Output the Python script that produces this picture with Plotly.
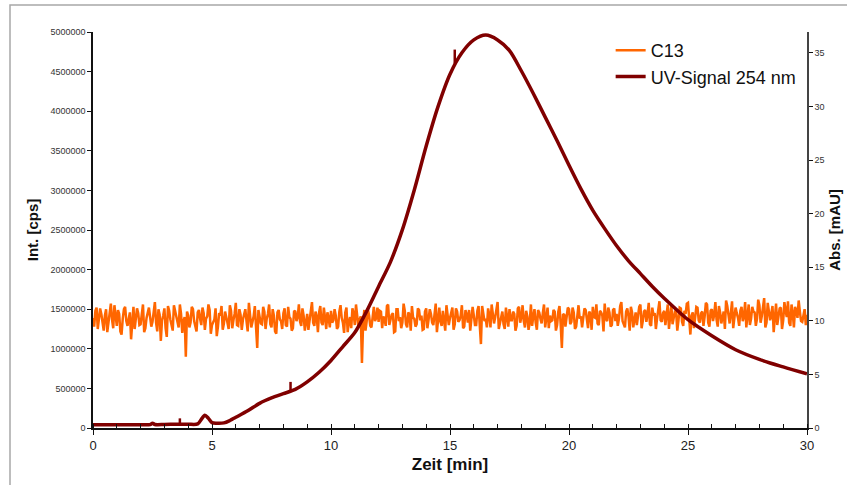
import numpy as np
import plotly.graph_objects as go

# C13 signal (thousands of cps): samples at 0.0, 0.1, ... 30.0 min
c13_a_kcps = [
    1390,1480,1250,1510,1330,1420,1210,1460,1370,1550,1290,1440,1180,1500,1350,1400,1120,1530,1380,1450,
    1310,1560,1260,1470,1400,1340,1590,1220,1430,1360,1510,1150,1480,1300,1550,1390,1270,1440,1350,900,
    1420,1330,1500,1260,1460,1380,1520,1240,1410,1490,1300,1370,1160,1450,1540,1320,1410,1250,1480,1360,
    1580,1290,1430,1370,1500,1220,1460,1340,1540,1010,1400,1310,1470,1380,1560,1270,1420,1190,1490,1350,
    1450,1300,1530,1380,1260,1470,1400,1340,1510,1230,1440,1370,1590,1290,1410,1460,1330,1520,1250,1390,
    1480,1360,1420,1280,1550,1330,1460,1210,1400,1510,1300,1440,1370,820,1490,1350,1420,1270,1530,1390,
    1340,1470,1410,1290,1560,1360,1450,1220,1500,1400,1330,1480,1270,1430,1540,1380,1310,1490,1420,1250,
    1510,1370,1440,1300,1570,1410,1340,1480,1230,1450,1390,1520,1310,1470,1360,1550,1280,1430,1490,1350,
    1420,1300,1540,1060,1460,1380,1510,1270,1440,1400,1590,1330,1470,1250,1420,1500,1360,1440,1290,1530,
    1400,1350,1480,1240,1560,1410,1330,1490,1380,1450,1270,1520,1420,1360,1470,1300,1540,1010,1430,1390,
    1500,1340,1460,1280,1550,1410,1370,1490,1260,1440,1530,1390,1320,1480,1420,1570,1350,1460,1300,1510,
    1440,1380,1590,1320,1470,1410,1530,1270,1460,1400,1560,1350,1490,1430,1310,1520,1450,1380,1600,1340,
    1480,1420,1250,1550,1400,1470,1360,1510,1290,1440,1580,1180,1460,1390,1520,1330,1470,1410,1560,1280,
    1500,1430,1370,1540,1320,1470,1610,1400,1450,1260,1520,1390,1480,1350,1590,1420,1300,1530,1460,1380,
    1550,1410,1640,1330,1490,1440,1210,1570,1400,1520,1360,1480,1600,1290,1450,1530,1390,1470,1340,1500,
    1430,
]
# C13 signal (thousands of cps): samples at 0.05, 0.15, ... 29.95 min
c13_b_kcps = [
    1280,1520,1350,1440,1230,1500,1310,1570,1260,1410,1490,1220,1380,1530,1290,1460,1340,1250,1510,1300,
    1470,1210,1390,1520,1280,1450,1330,1500,1100,1420,1260,1540,1370,1230,1480,1310,1560,1200,1400,1470,
    1270,1530,1350,1220,1490,1300,1450,1380,1560,1190,1340,1510,1280,1420,1240,1470,1330,1550,1260,1440,
    1300,1500,1240,1460,1350,1580,1270,1410,1200,1490,1320,1530,1250,1440,1310,1500,1220,1460,1370,1250,
    1510,1280,1400,1230,1480,1350,1560,1290,1420,1360,1240,1500,1330,1470,1210,1540,1300,1390,1460,1270,
    1330,1500,1250,1470,1390,1200,1520,1340,1260,1450,1560,1280,1410,1330,1230,1500,1290,1460,1350,1520,
    1480,1260,1370,1540,1300,1430,1210,1500,1350,1260,1570,1310,1460,1230,1390,1280,1510,1360,1240,1470,
    1260,1500,1330,1440,1210,1520,1290,1380,1550,1300,1460,1240,1510,1340,1420,1260,1490,1330,1230,1530,
    1300,1480,1210,1540,1350,1270,1430,1560,1320,1480,1250,1400,1310,1520,1280,1360,1470,1230,1510,1330,
    1550,1270,1410,1330,1290,1500,1240,1460,1320,1560,1410,1260,1350,1490,1230,1470,1310,1440,1280,1520,
    1310,1520,1250,1430,1380,1270,1510,1330,1470,1240,1400,1560,1300,1460,1220,1380,1520,1280,1490,1350,
    1290,1540,1350,1270,1510,1230,1460,1380,1300,1530,1260,1470,1340,1580,1290,1420,1250,1500,1360,1450,
    1300,1560,1390,1310,1470,1230,1520,1340,1480,1570,1300,1420,1260,1530,1360,1450,1290,1580,1330,1480,
    1350,1590,1280,1460,1410,1250,1540,1320,1600,1370,1450,1290,1530,1400,1270,1560,1380,1470,1290,1620,
    1330,1500,1270,1580,1360,1540,1410,1300,1510,1250,1590,1400,1330,1560,1270,1480,1610,1350,1440,1300,
]
c13_kcps = []
for i, a in enumerate(c13_a_kcps):
    c13_kcps.append(a)
    if i < len(c13_b_kcps):
        c13_kcps.append(c13_b_kcps[i])
c13_time = np.linspace(0, 30, len(c13_kcps))
c13_cps = [v * 1000 for v in c13_kcps]

# UV signal 254 nm (mAU), smooth trace
uv_time = [0, 1.0, 2.0, 2.4, 2.5, 2.6, 3.0, 3.5, 4.0, 4.4, 4.55, 4.7, 4.85, 5.0, 5.2, 5.5, 5.75,
           6.0, 6.5, 7.0, 7.5, 8.0, 8.5, 9.0, 9.5, 10.0, 10.5, 11.0, 11.5, 12.0, 12.5,
           13.0, 13.5, 14.0, 14.5, 15.0, 15.5, 16.0, 16.5, 17.0, 17.5,
           18.0, 18.5, 19.0, 19.5, 20.0, 20.5, 21.0, 21.5, 22.0, 22.5, 23.0, 23.5, 24.0,
           25.0, 26.0, 27.0, 28.0, 29.0, 30.0]
uv_mau = [0.3, 0.3, 0.3, 0.32, 0.45, 0.33, 0.33, 0.35, 0.35, 0.38, 0.8, 1.2, 0.9, 0.5, 0.45, 0.48, 0.7,
          1.0, 1.6, 2.3, 2.8, 3.2, 3.6, 4.3, 5.2, 6.3, 7.6, 8.9, 10.9, 13.2, 15.5,
          18.5, 22.2, 26.3, 30.0, 33.0, 35.0, 36.2, 36.65, 36.2, 35.2,
          33.3, 31.2, 29.0, 26.8, 24.5, 22.3, 20.3, 18.6, 17.0, 15.6, 14.4, 13.2, 12.1,
          10.1, 8.6, 7.3, 6.4, 5.7, 5.05]

# UV spikes (time, base, tip) in mAU
spike_time = [3.65, 8.3, 15.2]
spike_base = [0.35, 3.45, 34.0]
spike_tip = [0.9, 4.3, 35.3]

x_ticks = [0, 5, 10, 15, 20, 25, 30]
left_ticks = [0, 500000, 1000000, 1500000, 2000000, 2500000, 3000000, 3500000, 4000000, 4500000, 5000000]
right_ticks = [0, 5, 10, 15, 20, 25, 30, 35]

ORANGE = "#FF6600"
MAROON = "#800000"
FONT = "Liberation Sans, Arial, sans-serif"

spx, spy = [], []
for t, b, tip in zip(spike_time, spike_base, spike_tip):
    spx += [t, t, None]
    spy += [b, tip, None]

fig = go.Figure()
fig.add_trace(go.Scatter(x=c13_time, y=c13_cps, mode="lines", name="C13",
                         line=dict(color=ORANGE, width=2.5), yaxis="y"))
fig.add_trace(go.Scatter(x=uv_time, y=uv_mau, mode="lines", name="UV-Signal 254 nm",
                         line=dict(color=MAROON, width=3.5, shape="spline", smoothing=0.8),
                         yaxis="y2"))
fig.add_trace(go.Scatter(x=spx, y=spy, mode="lines", showlegend=False, hoverinfo="skip",
                         line=dict(color=MAROON, width=2.5), yaxis="y2"))

fig.update_layout(
    width=847, height=485,
    margin=dict(l=93, r=40, t=32, b=57, autoexpand=False),
    paper_bgcolor="white", plot_bgcolor="white",
    font=dict(family=FONT, color="#222222"),
    showlegend=True,
    legend=dict(x=0.725, y=1.0, xanchor="left", yanchor="top",
                bgcolor="rgba(0,0,0,0)", font=dict(size=18, color="#111111"),
                tracegroupgap=0, itemwidth=30),
    xaxis=dict(range=[0, 30], tickvals=x_ticks, ticktext=[str(v) for v in x_ticks],
               automargin=False,
               showgrid=False, zeroline=False, showline=True, linecolor="#111111", linewidth=1.5,
               ticks="outside", ticklen=5, tickcolor="#111111", tickwidth=1.2,
               minor=dict(dtick=1, ticks="inside", ticklen=4, tickcolor="#111111", tickwidth=1),
               tickfont=dict(size=13, color="#222222"),
               title=dict(text="<b>Zeit [min]</b>", font=dict(size=17, color="#111111"), standoff=6)),
    xaxis2=dict(range=[0, 30], overlaying="x", tickvals=x_ticks, showticklabels=False,
                automargin=False,
                ticks="inside", ticklen=5, tickcolor="#111111", tickwidth=1.2,
                showgrid=False, zeroline=False, showline=False),
    yaxis=dict(range=[0, 5000000], tickvals=left_ticks, ticktext=[str(v) for v in left_ticks],
               automargin=False,
               showgrid=False, zeroline=False, showline=True, linecolor="#111111", linewidth=1.5,
               ticks="outside", ticklen=4, tickcolor="#111111",
               tickfont=dict(size=9, color="#333333"),
               title=dict(text="<b>Int. [cps]</b>", font=dict(size=15, color="#111111"), standoff=8)),
    yaxis2=dict(range=[0, 36.94], overlaying="y", side="right", tickvals=right_ticks,
                automargin=False,
                showgrid=False, zeroline=False, showline=True, linecolor="#444444", linewidth=1.5,
                ticks="outside", ticklen=4, tickcolor="#111111",
                tickfont=dict(size=9, color="#333333"),
                title=dict(text="<b>Abs. [mAU]</b>", font=dict(size=15, color="#111111"), standoff=6)),
    shapes=[dict(type="rect", xref="paper", yref="paper",
                 x0=(10 - 93) / 714, x1=1.2, y0=-0.3, y1=(428 - 5) / 396,
                 line=dict(color="#A8A8A8", width=1.5), fillcolor="rgba(0,0,0,0)", layer="below")],
)

fig.write_html("out.html", config={"displayModeBar": False},
               post_script="document.body.style.margin='0';")
